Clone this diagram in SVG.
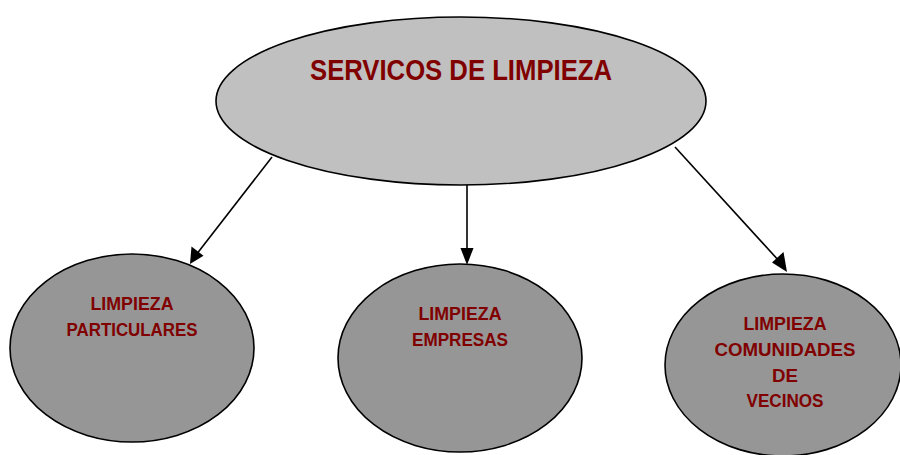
<svg xmlns="http://www.w3.org/2000/svg" width="900" height="455" viewBox="0 0 900 455">
<style>
.top{fill:#c0c0c0;stroke:#000;stroke-width:1.6}
.sub{fill:#969696;stroke:#000;stroke-width:1.6}
.t{font-family:"Liberation Sans",Arial,sans-serif;font-weight:bold;fill:#800000;text-anchor:middle}
.big{font-size:29px}
.sm{font-size:18px}
.ln{stroke:#000;stroke-width:1.6;fill:none}
.hd{fill:#000}
</style>
<rect width="900" height="455" fill="#fff"/>
<g id="connectors">
<line class="ln" x1="272" y1="157" x2="196" y2="255"/>
<path class="hd" d="M190,264 L191.5,246.5 L203.5,255.8 Z"/>
<line class="ln" x1="467" y1="185" x2="467" y2="250"/>
<path class="hd" d="M467,265 L460.5,248 L473.5,248 Z"/>
<line class="ln" x1="675" y1="147" x2="780" y2="262"/>
<path class="hd" d="M787,272 L772,262.5 L783.5,252 Z"/>
</g>
<g id="servicios">
<ellipse class="top" cx="461" cy="101" rx="245" ry="84"/>
<text class="t big" x="461" y="80" textLength="302" lengthAdjust="spacingAndGlyphs">SERVICOS DE LIMPIEZA</text>
</g>
<g id="particulares">
<ellipse class="sub" cx="132" cy="348" rx="122" ry="94"/>
<text class="t sm" x="132" y="310" textLength="83" lengthAdjust="spacingAndGlyphs">LIMPIEZA</text>
<text class="t sm" x="132" y="336" textLength="131" lengthAdjust="spacingAndGlyphs">PARTICULARES</text>
</g>
<g id="empresas">
<ellipse class="sub" cx="460" cy="358" rx="122" ry="94"/>
<text class="t sm" x="460" y="320" textLength="83" lengthAdjust="spacingAndGlyphs">LIMPIEZA</text>
<text class="t sm" x="460" y="346" textLength="96" lengthAdjust="spacingAndGlyphs">EMPRESAS</text>
</g>
<g id="comunidades">
<ellipse class="sub" cx="783" cy="365" rx="118" ry="91"/>
<text class="t sm" x="785" y="330" textLength="83" lengthAdjust="spacingAndGlyphs">LIMPIEZA</text>
<text class="t sm" x="785" y="356" textLength="141" lengthAdjust="spacingAndGlyphs">COMUNIDADES</text>
<text class="t sm" x="785" y="382" textLength="26" lengthAdjust="spacingAndGlyphs">DE</text>
<text class="t sm" x="785" y="407" textLength="77" lengthAdjust="spacingAndGlyphs">VECINOS</text>
</g>
</svg>
